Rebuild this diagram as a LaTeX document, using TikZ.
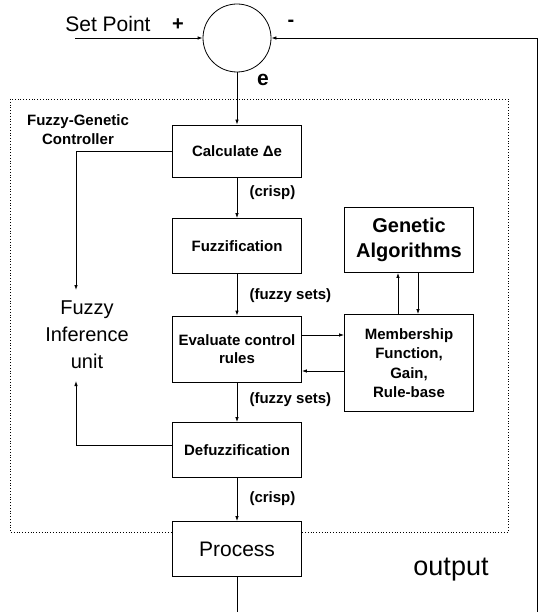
\documentclass[tikz,border=0pt]{standalone}
\usepackage{fontspec}
\setmainfont{Liberation Sans}
\usetikzlibrary{arrows.meta}

\tikzset{
  blk/.style={draw, line width=0.8pt, fill=white, minimum width=129pt, inner sep=2pt,
    align=center, font=\fontsize{15}{17.5}\selectfont\bfseries},
  lnk/.style={line width=0.8pt, -{Latex[length=5pt,width=3.5pt]}},
  wire/.style={line width=0.8pt},
  tag/.style={anchor=west, font=\fontsize{15}{18}\selectfont\bfseries}
}

\begin{document}
\begin{tikzpicture}[x=1pt, y=-1pt]
  \useasboundingbox (0,0) rectangle (539,612);
  % Controller frame
  \draw[dotted, line width=0.8pt] (10,99) rectangle (508,532);
  \node[align=center, font=\fontsize{15}{19}\selectfont\bfseries] (fgc) at (78,130) {Fuzzy-Genetic\\Controller};
  % Summing junction
  \node[draw, circle, line width=0.8pt, minimum size=68pt, inner sep=0pt] (sum) at (237,38) {};
  \node[font=\fontsize{21}{24}\selectfont] (sp) at (108,24) {Set Point};
  \node[font=\fontsize{20}{24}\selectfont\bfseries] (plus) at (178,25) {+};
  \node[font=\fontsize{20}{24}\selectfont\bfseries] (minus) at (291,23) {-};
  \node[font=\fontsize{21}{24}\selectfont\bfseries] (err) at (263,80) {e};
  \coordinate (spin) at (75,38);
  \coordinate (fbdown) at (537,612);
  \coordinate (fbup) at (537,38);
  % Blocks
  \node[blk, minimum height=52pt] (calc) at (237,151) {Calculate Δe};
  \node[blk, minimum height=55pt] (fuzz) at (237,246) {Fuzzification};
  \node[blk, minimum height=66pt] (eval) at (237,349) {Evaluate control\\rules};
  \node[blk, minimum height=55pt] (defuzz) at (237,450) {Defuzzification};
  \node[blk, minimum height=55pt, font=\fontsize{21}{24}\selectfont] (proc) at (237,549) {Process};
  \node[blk, minimum height=65pt, font=\fontsize{20}{25}\selectfont\bfseries] (ga) at (409,240) {Genetic\\Algorithms};
  \node[blk, minimum height=97pt, font=\fontsize{15}{19.5}\selectfont\bfseries] (mem) at (409,363) {Membership\\Function,\\Gain,\\Rule-base};
  \node[align=center, font=\fontsize{20}{27}\selectfont] (fiu) at (87,335) {Fuzzy\\Inference\\unit};
  \node[font=\fontsize{27}{30}\selectfont] (out) at (451,570) {output};
  \coordinate (fiutop) at (76,290);
  \coordinate (fiubot) at (76,381);
  \coordinate (procout) at (237,612);
  % Signal path
  \draw[lnk] (spin) -- (sum.west);
  \draw[lnk] (fbdown) -- (fbup) -- (sum.east);
  \draw[lnk] (sum.south) -- (calc.north);
  \draw[lnk] (calc) -- (fuzz);
  \draw[lnk] (fuzz) -- (eval);
  \draw[lnk] (eval) -- (defuzz);
  \draw[lnk] (defuzz) -- (proc);
  \draw[wire] (proc.south) -- (procout);
  % Signal labels
  \foreach \y/\txt in {193/(crisp), 296/(fuzzy sets), 400/(fuzzy sets), 499/(crisp)}
    \node[tag] at (246,\y) {\txt};
  % Tuning loop
  \draw[lnk] ([yshift=14pt]eval.east) -- ([yshift=14pt]eval.east -| mem.west);
  \draw[lnk] ([yshift=-8pt]mem.west) -- ([yshift=-8pt]mem.west -| eval.east);
  \draw[lnk] ([xshift=-11pt]mem.north) -- ([xshift=-11pt]ga.south);
  \draw[lnk] ([xshift=9pt]ga.south) -- ([xshift=9pt]mem.north);
  % Inference unit brackets
  \draw[lnk] (calc.west) -| (fiutop);
  \draw[lnk] ([yshift=5pt]defuzz.west) -| (fiubot);
\end{tikzpicture}
\end{document}
